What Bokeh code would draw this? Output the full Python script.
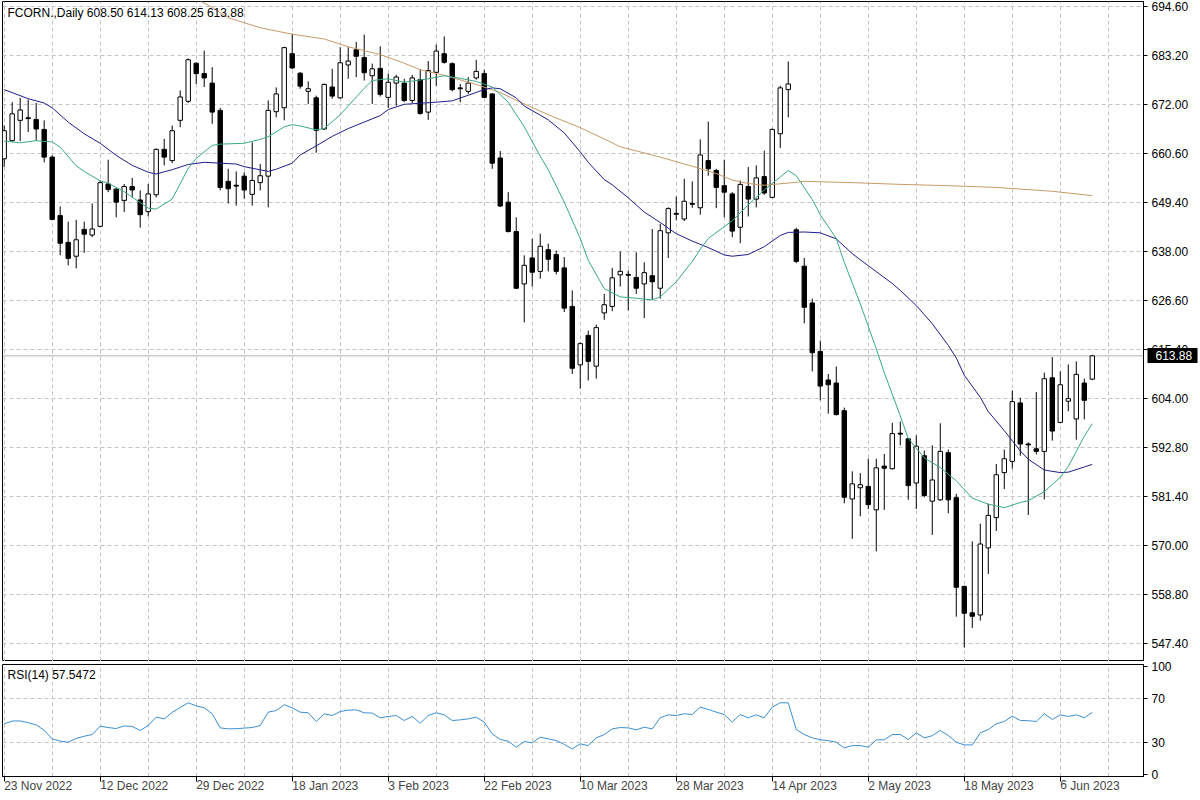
from bokeh.plotting import figure
from bokeh.models import (Range1d, FixedTicker, Span, Label, ColumnDataSource,
                          NumeralTickFormatter, LinearAxis)
from bokeh.layouts import column
from bokeh.embed import file_html
from bokeh.resources import INLINE

# ---------------- data ----------------
opens = [
    659.4, 663.6, 668.3, 668.9, 668.5, 666.2, 659.8, 646.3, 640.1, 636.9,
    643.1, 641.8, 643.8, 653.6, 652.4, 649.8, 653.0, 649.9, 647.2, 651.1,
    661.6, 659.0, 668.3, 672.7, 681.5, 679.1, 676.9, 670.6, 654.2, 653.3,
    655.4, 651.2, 653.9, 655.4, 670.3, 671.2, 683.7, 679.2, 675.0, 673.5,
    666.3, 676.0, 673.5, 681.1, 684.6, 682.8, 678.6, 680.3, 673.6, 676.9,
    676.9, 672.9, 677.7, 670.2, 679.4, 683.7, 681.4, 675.8, 675.0, 678.1,
    679.1, 674.4, 659.6, 649.4, 642.6, 630.5, 636.5, 633.4, 638.4, 637.3,
    634.2, 625.3, 611.8, 618.6, 611.5, 623.8, 625.3, 632.6, 632.7, 632.0,
    630.5, 632.4, 629.5, 642.3, 646.8, 645.5, 649.1, 648.1, 659.0, 656.7,
    653.2, 651.3, 643.6, 653.0, 650.1, 655.3, 650.5, 665.2, 675.4, 643.0,
    634.6, 626.1, 614.9, 608.3, 607.6, 601.2, 580.8, 583.4, 583.7, 578.3,
    588.4, 587.8, 596.0, 594.7, 584.5, 590.8, 580.3, 580.6, 591.5, 581.1,
    560.6, 554.5, 554.0, 569.5, 576.5, 586.9, 589.5, 603.0, 593.5, 592.4,
    591.8, 608.8, 598.5, 603.4, 599.3, 607.6, 608.50]
highs = [
    667.1, 672.5, 673.5, 673.1, 672.3, 668.3, 660.2, 648.4, 644.9, 645.3,
    644.9, 649.1, 654.4, 659.2, 652.6, 653.6, 655.0, 652.1, 653.6, 661.8,
    664.0, 667.1, 675.2, 682.6, 681.7, 684.4, 680.6, 671.2, 657.1, 656.5,
    656.3, 663.2, 658.2, 672.9, 675.9, 685.3, 688.3, 679.4, 677.3, 674.0,
    676.8, 680.2, 685.2, 685.2, 686.4, 688.1, 681.4, 685.4, 679.1, 678.8,
    677.9, 678.8, 680.0, 682.0, 685.8, 687.7, 681.7, 676.7, 678.3, 682.3,
    680.0, 674.6, 661.2, 651.7, 645.9, 637.1, 640.9, 642.1, 639.8, 638.2,
    636.7, 629.0, 617.0, 619.7, 621.1, 628.2, 634.2, 638.0, 633.6, 637.8,
    635.5, 643.2, 644.4, 648.2, 650.7, 654.8, 654.2, 663.9, 668.0, 657.1,
    659.2, 651.7, 654.4, 657.5, 657.9, 661.3, 666.4, 676.3, 681.9, 643.5,
    636.5, 627.1, 617.4, 609.7, 611.4, 601.9, 587.2, 586.8, 590.1, 590.1,
    591.2, 598.4, 598.7, 594.9, 595.5, 592.0, 593.2, 598.3, 592.2, 582.0,
    560.8, 571.0, 575.1, 579.7, 588.9, 592.2, 605.9, 604.2, 593.9, 605.5,
    610.0, 613.6, 610.3, 611.9, 612.6, 608.6, 614.13]
lows = [
    657.5, 663.4, 663.5, 665.6, 663.6, 658.6, 645.2, 637.1, 634.8, 634.1,
    637.7, 641.3, 643.6, 651.7, 645.9, 647.1, 650.5, 643.5, 646.1, 650.5,
    657.9, 658.4, 666.7, 672.3, 676.7, 676.0, 667.5, 652.1, 649.1, 648.6,
    650.2, 648.6, 652.1, 648.2, 669.0, 668.3, 680.2, 675.6, 672.1, 660.8,
    666.1, 673.3, 673.3, 677.9, 678.3, 677.5, 672.1, 673.8, 671.2, 671.7,
    672.5, 672.3, 669.6, 668.4, 676.3, 681.4, 675.0, 672.5, 674.4, 677.7,
    673.5, 657.1, 648.3, 642.4, 629.3, 621.6, 629.9, 631.7, 633.4, 632.7,
    624.0, 609.7, 606.3, 608.2, 608.6, 622.2, 624.2, 629.9, 624.4, 628.2,
    622.6, 626.8, 627.1, 636.5, 645.2, 645.0, 648.1, 646.5, 655.5, 648.0,
    645.9, 641.3, 639.9, 646.1, 648.2, 651.1, 650.3, 661.9, 669.0, 635.3,
    621.4, 610.3, 603.6, 600.5, 600.1, 579.8, 571.6, 576.8, 578.5, 568.7,
    578.3, 587.6, 593.2, 580.6, 578.5, 581.2, 572.5, 580.4, 577.5, 553.6,
    546.5, 551.0, 552.7, 563.5, 573.4, 583.1, 587.8, 590.8, 577.1, 591.1,
    580.7, 594.3, 598.3, 601.1, 594.5, 599.2, 608.25]
closes = [
    665.9, 669.8, 670.7, 668.7, 666.3, 659.8, 645.4, 639.9, 636.4, 640.7,
    642.0, 643.2, 653.9, 652.3, 649.4, 653.0, 652.2, 646.5, 651.3, 661.6,
    659.8, 665.9, 673.7, 682.3, 679.1, 678.1, 670.2, 652.8, 652.5, 653.1,
    652.2, 654.4, 655.5, 670.6, 674.4, 685.1, 680.4, 676.2, 675.6, 666.0,
    676.6, 673.9, 681.6, 682.0, 683.1, 679.3, 680.2, 674.3, 677.1, 678.3,
    672.9, 678.1, 669.9, 679.8, 684.3, 681.7, 675.4, 675.6, 676.9, 679.6,
    673.6, 658.4, 648.5, 642.6, 629.5, 634.8, 633.2, 639.2, 636.2, 633.4,
    624.9, 611.0, 616.7, 612.6, 620.4, 625.7, 631.9, 633.4, 632.5, 629.5,
    633.1, 631.0, 642.8, 647.9, 646.6, 649.6, 648.9, 660.3, 657.1, 652.8,
    651.7, 642.7, 653.5, 650.1, 655.0, 651.5, 666.2, 675.8, 676.7, 635.7,
    625.1, 614.6, 606.9, 607.2, 600.3, 581.2, 584.3, 584.1, 579.5, 588.0,
    587.9, 595.9, 595.8, 583.9, 593.0, 581.6, 585.2, 591.8, 580.6, 560.4,
    554.4, 553.7, 570.4, 577.0, 586.4, 590.1, 603.3, 593.5, 593.3, 591.8,
    608.6, 596.5, 607.2, 604.0, 609.6, 603.6, 613.88]

rsi = [
    46.9, 49.5, 49.6, 48.0, 46.0, 41.0, 33.0, 31.0, 30.0, 33.5,
    35.5, 37.0, 44.8, 43.5, 42.6, 45.0, 44.5, 40.8, 45.4, 53.1,
    51.5, 57.5, 62.0, 66.3, 63.5, 61.7, 56.2, 43.2, 42.3, 42.5,
    43.0, 43.5, 45.4, 57.7, 59.2, 64.5, 61.7, 57.7, 57.1, 49.1,
    56.2, 54.6, 58.3, 59.5, 59.8, 57.1, 56.8, 52.5, 53.7, 54.6,
    50.0, 53.7, 47.5, 54.6, 57.1, 55.2, 50.0, 50.6, 51.5, 53.1,
    48.5, 37.7, 32.5, 30.9, 25.4, 30.6, 29.4, 34.6, 33.1, 31.5,
    28.0, 23.8, 28.5, 26.9, 34.0, 37.0, 42.3, 43.5, 43.2, 41.4,
    43.8, 42.3, 52.5, 55.2, 54.6, 56.2, 55.5, 62.3, 60.2, 57.7,
    55.5, 48.5, 55.5, 52.5, 55.2, 52.5, 62.3, 66.3, 66.3, 41.7,
    37.1, 34.0, 32.2, 31.5, 30.0, 24.8, 26.9, 26.9, 25.4, 32.2,
    32.2, 37.1, 37.1, 32.5, 38.6, 34.0, 36.0, 40.8, 36.2, 30.0,
    27.5, 27.5, 38.6, 41.7, 46.9, 49.1, 54.0, 50.0, 49.8, 49.1,
    56.2, 50.9, 55.2, 53.7, 55.2, 52.5, 57.5472]

# moving averages, read at sample bars
fast_ma_x = [0, 2, 4, 6, 7, 9, 10, 12, 13, 15, 17, 18, 19, 21, 23, 24, 26, 27, 30, 32,
             33, 35, 36, 37, 39, 40, 42, 43, 45, 46, 48, 50, 53, 55, 57, 59, 61, 63, 65, 67,
             68, 70, 72, 73, 75, 77, 79, 81, 82, 84, 86, 87, 88, 91, 93, 95, 97, 98, 99, 101,
             102, 104, 105, 107, 109, 110, 112, 113, 115, 117, 119, 121, 123, 125, 127, 128,
             130, 132, 133, 134, 135, 136]
fast_ma = [663.5, 663.1, 663.6, 663.3, 662.1, 657.8, 656.5, 654.3, 653.8, 651.8,
           649.3, 648.0, 647.8, 650.1, 657.2, 659.5, 662.5, 662.8, 663.0, 663.9,
           664.5, 666.8, 667.3, 667.0, 666.1, 666.4, 669.6, 671.6, 675.7, 677.5,
           677.9, 677.1, 677.9, 678.6, 678.0, 677.3, 676.0, 672.5, 666.8, 660.0,
           656.9, 649.4, 641.0, 636.0, 629.4, 627.5, 627.2, 626.8, 627.5, 631.0,
           635.7, 638.5, 641.0, 645.1, 648.8, 652.2, 655.2, 656.7, 655.5, 650.0,
           646.5, 641.0, 635.5, 625.9, 615.5, 610.0, 600.0, 594.8, 590.3, 588.1,
           585.0, 581.0, 579.6, 578.8, 580.0, 580.4, 582.5, 585.8, 588.3, 591.8,
           595.3, 598.2]
mid_ma_x = [0, 3, 5, 6, 8, 10, 12, 14, 16, 18, 19, 21, 23, 25, 29, 30, 33, 34, 36, 37,
            39, 41, 43, 45, 47, 48, 50, 54, 56, 58, 60, 61, 62, 64, 65, 67, 68, 70, 72, 73,
            75, 76, 78, 80, 82, 84, 86, 88, 90, 91, 93, 95, 97, 98, 100, 102, 104, 106, 108, 111,
            112, 114, 116, 118, 119, 120, 122, 123, 125, 127, 128, 130, 132, 133, 135, 136]
mid_ma = [675.4, 673.3, 672.3, 671.2, 667.9, 665.2, 663.0, 660.2, 657.9, 656.3,
          655.9, 656.9, 658.1, 658.6, 658.2, 657.6, 656.5, 657.0, 658.4, 660.3,
          662.4, 664.6, 666.4, 667.9, 669.4, 670.8, 672.0, 672.5, 672.8, 674.1,
          675.4, 675.8, 675.6, 673.5, 671.6, 669.5, 668.4, 665.4, 661.0, 658.6,
          654.6, 653.4, 650.4, 647.1, 644.7, 642.1, 640.4, 638.9, 637.2, 636.9,
          637.3, 639.1, 641.7, 642.4, 642.5, 642.3, 640.9, 637.5, 634.7, 630.6,
          629.0, 625.5, 621.3, 616.3, 613.4, 609.4, 604.3, 601.0, 596.6, 591.9,
          590.0, 587.5, 586.9, 587.0, 588.2, 588.8]
slow_ma_x = [24, 26, 28, 32, 36, 40, 43, 47, 50, 52, 55, 59, 62, 65, 68, 72, 75, 77, 82, 86,
             89, 91, 93, 95, 98, 100, 106, 112, 118, 124, 131, 136]
slow_ma = [696.4, 694.4, 692.0, 689.7, 688.2, 687.1, 685.3, 683.5, 681.5, 680.0,
           678.7, 676.6, 674.7, 672.1, 669.6, 666.6, 664.0, 662.2, 659.8, 657.7,
           656.0, 654.5, 653.7, 653.3, 653.8, 654.2, 653.9, 653.5, 653.2, 652.8,
           651.9, 650.9]

price_ticks = [547.4, 558.8, 570.0, 581.4, 592.8, 604.0, 615.4, 626.6, 638.0,
               649.4, 660.6, 672.0, 683.2, 694.6]
rsi_ticks = [0, 30, 70, 100]
rsi_levels = [30, 70]
date_ticks = [0, 12, 24, 36, 48, 60, 72, 84, 96, 108, 120, 132]
date_labels = ["23 Nov 2022", "12 Dec 2022", "29 Dec 2022", "18 Jan 2023", "3 Feb 2023",
               "22 Feb 2023", "10 Mar 2023", "28 Mar 2023", "14 Apr 2023", "2 May 2023",
               "18 May 2023", "6 Jun 2023"]
symbol_title = "FCORN.,Daily  608.50 614.13 608.25 613.88"
rsi_title = "RSI(14) 57.5472"
last_price = 613.88

# ---------------- styling ----------------
FONT = "Liberation Sans"
GRID = "#c4c4c4"
n = len(closes)
idx = list(range(n))

src = ColumnDataSource(dict(
    x=idx, high=highs, low=lows,
    top=[max(o, c) for o, c in zip(opens, closes)],
    bottom=[min(o, c) for o, c in zip(opens, closes)],
    fill=["white" if c >= o else "black" for o, c in zip(opens, closes)],
))

x_range = Range1d(-0.21, 142.4)


def style_common(f):
    f.outline_line_color = "black"
    f.outline_line_alpha = 1.0
    f.outline_line_width = 1
    f.background_fill_color = "white"
    f.border_fill_color = "white"
    for g in (f.xgrid, f.ygrid):
        g.grid_line_color = GRID
        g.grid_line_dash = "4 3"
        g.grid_line_width = 1
    f.yaxis.axis_line_color = "black"
    f.yaxis.major_tick_line_color = "black"
    f.yaxis.major_tick_out = 4
    f.yaxis.major_tick_in = 0
    f.yaxis.minor_tick_out = 0
    f.yaxis.minor_tick_in = 0
    f.yaxis.major_label_text_font = FONT
    f.yaxis.major_label_text_font_size = "12px"
    f.yaxis.major_label_text_color = "black"
    f.yaxis.major_label_standoff = 4


# ---------------- main price panel ----------------
p = figure(frame_width=1141, frame_height=660, x_range=x_range,
           y_range=Range1d(543.25, 695.76), x_axis_location=None,
           y_axis_location="right", output_backend="svg", toolbar_location=None,
           min_border_left=2, min_border_top=1, min_border_bottom=0, min_border_right=55)
style_common(p)
p.xgrid.ticker = FixedTicker(ticks=list(range(0, 143, 6)))
p.ygrid.ticker = FixedTicker(ticks=price_ticks)
p.yaxis.ticker = FixedTicker(ticks=price_ticks)
p.yaxis.formatter = NumeralTickFormatter(format="0.00")

# current-price marker on the price scale: a second right axis with one tick,
# its thick tick forming the black box and its label the white price text
price_axis = LinearAxis(ticker=FixedTicker(ticks=[last_price]),
                        formatter=NumeralTickFormatter(format="0.00"))
price_axis.axis_line_color = None
price_axis.major_tick_line_color = "black"
price_axis.major_tick_line_width = 15
price_axis.major_tick_in = 44
price_axis.major_tick_out = 6
price_axis.major_tick_line_cap = "butt"
price_axis.minor_tick_out = 0
price_axis.minor_tick_in = 0
price_axis.major_label_text_font = FONT
price_axis.major_label_text_font_size = "12px"
price_axis.major_label_text_color = "white"
price_axis.major_label_standoff = -42
p.add_layout(price_axis, "right")

p.add_layout(Span(location=last_price, dimension="width", line_color="#b4b4b4",
                  line_width=1, level="underlay"))

p.segment(x0="x", y0="low", x1="x", y1="high", source=src, line_color="black", line_width=1)
p.vbar(x="x", width=0.55, top="top", bottom="bottom", source=src,
       fill_color="fill", line_color="black", line_width=1)

p.line(slow_ma_x, slow_ma, line_color="#c89a68", line_width=1)
p.line(mid_ma_x, mid_ma, line_color="#1e1e8c", line_width=1)
p.line(fast_ma_x, fast_ma, line_color="#3aa88a", line_width=1)

p.add_layout(Label(x=0.415, y=693.2, text=symbol_title, text_font=FONT,
                   text_font_size="12px", text_color="black", text_baseline="middle",
                   text_align="left"))

# ---------------- RSI panel ----------------
r = figure(frame_width=1141, frame_height=112, x_range=x_range,
           y_range=Range1d(-1.6, 101.6), y_axis_location="right",
           output_backend="svg", toolbar_location=None,
           min_border_left=2, min_border_top=3, min_border_bottom=0, min_border_right=55)
style_common(r)
r.xgrid.ticker = FixedTicker(ticks=list(range(0, 143, 6)))
r.ygrid.ticker = FixedTicker(ticks=rsi_levels)
r.yaxis.ticker = FixedTicker(ticks=rsi_ticks)
r.xaxis.ticker = FixedTicker(ticks=date_ticks)
r.xaxis.major_label_overrides = {t: lab for t, lab in zip(date_ticks, date_labels)}
r.xaxis.axis_line_color = "black"
r.xaxis.major_tick_out = 5
r.xaxis.major_tick_in = 0
r.xaxis.minor_tick_out = 0
r.xaxis.minor_tick_in = 0
r.xaxis.major_label_text_font = FONT
r.xaxis.major_label_text_font_size = "12px"
r.xaxis.major_label_orientation = -0.0001
r.xaxis.major_label_standoff = 4

r.line(idx, rsi, line_color="#3a8fd4", line_width=1)
r.add_layout(Label(x=0.415, y=91.5, text=rsi_title, text_font=FONT,
                   text_font_size="12px", text_color="black", text_baseline="middle",
                   text_align="left"))

layout = column(p, r, spacing=0)
open("out.html", "w").write(file_html(layout, INLINE, title="FCORN Daily"))
